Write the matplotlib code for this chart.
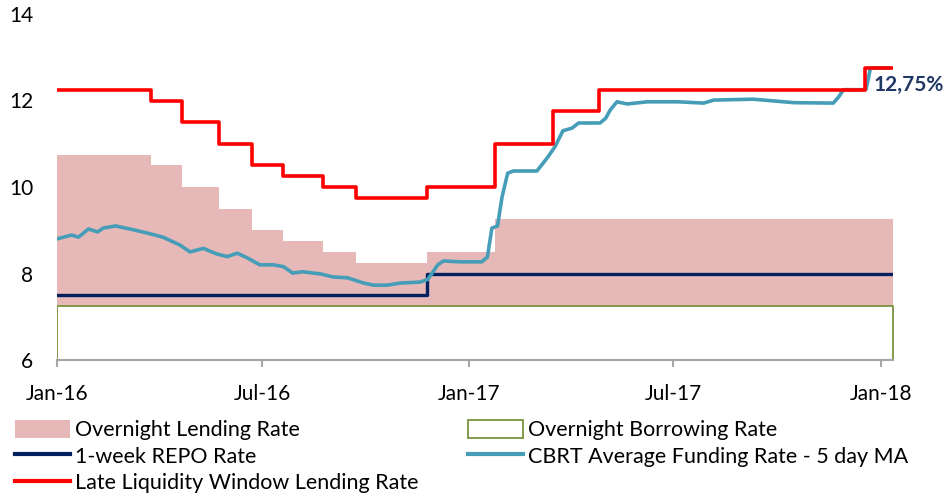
import numpy as np
import pandas as pd
import matplotlib
matplotlib.use("Agg")
import matplotlib.pyplot as plt
import matplotlib.dates as mdates
from matplotlib.patches import Patch
from matplotlib.lines import Line2D

plt.rcParams["font.family"] = ["Lato", "DejaVu Sans"]

# ── data ──
lending_dates = ["2016-01-01", "2016-03-24", "2016-04-21", "2016-05-24", "2016-06-22", "2016-07-20",
                 "2016-08-24", "2016-09-22", "2016-11-24", "2017-01-24", "2018-01-12"]
lending_rate = [10.75, 10.5, 10.0, 9.5, 9.0, 8.75, 8.5, 8.25, 8.5, 9.25, 9.25]

borrow_dates = ["2016-01-01", "2018-01-12"]
borrow_rate = [7.25, 7.25]

repo_dates = ["2016-01-01", "2016-11-24", "2018-01-12"]
repo_rate = [7.5, 8.0, 8.0]

llw_dates = ["2016-01-01", "2016-03-24", "2016-04-21", "2016-05-24", "2016-06-22", "2016-07-20",
             "2016-08-24", "2016-09-22", "2016-11-24", "2017-01-24", "2017-03-16", "2017-04-26",
             "2017-12-18", "2018-01-12"]
llw_rate = [12.25, 12.0, 11.5, 11.0, 10.5, 10.25, 10.0, 9.75, 10.0, 11.0, 11.75, 12.25, 12.75, 12.75]

cbrt_dates = ["2016-01-01", "2016-01-14", "2016-01-20", "2016-01-29", "2016-02-06", "2016-02-11",
              "2016-02-22", "2016-03-09", "2016-03-22", "2016-04-04", "2016-04-19", "2016-04-28",
              "2016-05-10", "2016-05-22", "2016-05-31", "2016-06-09", "2016-06-18", "2016-06-29",
              "2016-07-11", "2016-07-20", "2016-07-28", "2016-08-06", "2016-08-22", "2016-09-02",
              "2016-09-15", "2016-09-29", "2016-10-08", "2016-10-20", "2016-11-01", "2016-11-18",
              "2016-11-25", "2016-12-04", "2016-12-09", "2016-12-24", "2017-01-12", "2017-01-17",
              "2017-01-21", "2017-01-26", "2017-01-30", "2017-02-04", "2017-02-09", "2017-03-02",
              "2017-03-11", "2017-03-18", "2017-03-25", "2017-04-02", "2017-04-08", "2017-04-27",
              "2017-05-02", "2017-05-06", "2017-05-12", "2017-05-21", "2017-06-08", "2017-07-05",
              "2017-07-28", "2017-08-06", "2017-09-10", "2017-10-16", "2017-11-20", "2017-11-25",
              "2017-11-29", "2017-12-19", "2017-12-23", "2018-01-08"]
cbrt_rate = [8.80, 8.89, 8.84, 9.03, 8.96, 9.05,
             9.10, 9.01, 8.93, 8.84, 8.66, 8.50,
             8.58, 8.45, 8.39, 8.47, 8.36, 8.20,
             8.20, 8.16, 8.01, 8.04, 7.99, 7.92,
             7.90, 7.78, 7.73, 7.73, 7.78, 7.80,
             7.86, 8.20, 8.29, 8.27, 8.27, 8.38,
             9.05, 9.10, 9.77, 10.32, 10.37, 10.37,
             10.67, 10.93, 11.30, 11.36, 11.48, 11.48,
             11.59, 11.78, 11.97, 11.92, 11.97, 11.97,
             11.94, 12.01, 12.03, 11.95, 11.94, 12.09,
             12.25, 12.25, 12.75, 12.75]

x_start, x_end = "2016-01-01", "2018-01-12"
tick_dates = ["2016-01-01", "2016-07-01", "2017-01-01", "2017-07-01", "2018-01-01"]
tick_labels = ["Jan-16", "Jul-16", "Jan-17", "Jul-17", "Jan-18"]

to_dt = pd.to_datetime

fig = plt.figure(figsize=(9.47, 4.96), dpi=100)
ax = fig.add_axes([57/947, 1 - 360/496, (893-57)/947, 346/496])

ax.fill_between(to_dt(lending_dates), 6, lending_rate, step="post",
                color="#E6B8B7", lw=0, zorder=1)
ax.fill_between(to_dt(borrow_dates), 6, borrow_rate, step="post",
                facecolor="white", edgecolor="#77933C", lw=1.3, zorder=2)
ax.step(to_dt(repo_dates), repo_rate, where="post", color="#002060", lw=2.4, zorder=3,
        solid_capstyle="round")
ax.plot(to_dt(cbrt_dates), cbrt_rate, color="#469DB8", lw=2.6, zorder=4)
ax.step(to_dt(llw_dates), llw_rate, where="post", color="#FF0000", lw=2.6, zorder=5,
        solid_capstyle="round")

ax.annotate("12,75%", xy=(to_dt(llw_dates[-1]), llw_rate[-1]), xytext=(-14, -12),
            textcoords="offset points", ha="left", va="center", fontsize=15,
            fontweight="bold", color="#1F3864", annotation_clip=False)

ax.set_xlim(to_dt(x_start), to_dt(x_end))
ax.set_ylim(6, 14)
ax.set_yticks([6, 8, 10, 12, 14])
ax.set_xticks(to_dt(tick_dates))
ax.set_xticklabels(tick_labels)
for s in ["top", "right", "left"]:
    ax.spines[s].set_visible(False)
ax.spines["bottom"].set_color("#A6A6A6")
ax.spines["bottom"].set_linewidth(1.5)
ax.tick_params(axis="x", length=5, width=1.5, color="#A6A6A6", pad=12, labelsize=15)
ax.tick_params(axis="y", length=0, pad=17, labelsize=15)

handles = [
    Patch(facecolor="#E6B8B7", edgecolor="none", label="Overnight Lending Rate"),
    Line2D([], [], color="#002060", lw=3, label="1-week REPO Rate"),
    Line2D([], [], color="#FF0000", lw=3, label="Late Liquidity Window Lending Rate"),
    Patch(facecolor="white", edgecolor="#77933C", lw=1.3, label="Overnight Borrowing Rate"),
    Line2D([], [], color="#469DB8", lw=3, label="CBRT Average Funding Rate - 5 day MA"),
]
fig.legend(handles=handles, loc="upper left", bbox_to_anchor=(15/947, 1 - 420/496), ncol=2,
           frameon=False, fontsize=15.5, handlelength=2.55, handleheight=0.9, handletextpad=0.23,
           labelspacing=0.27, columnspacing=2.3, borderpad=0, borderaxespad=0)

fig.savefig("out.png", dpi=100)
